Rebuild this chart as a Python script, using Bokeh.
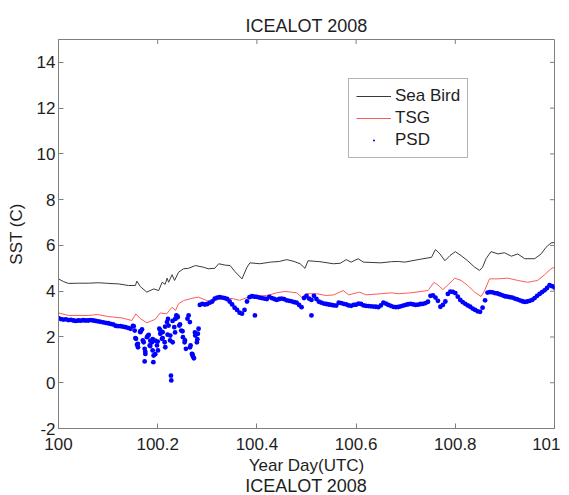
from bokeh.plotting import figure
from bokeh.models import (FixedTicker, Range1d, Div, Legend, LegendItem)
from bokeh.layouts import column
from bokeh.embed import file_html
from bokeh.resources import INLINE

title_text = "ICEALOT 2008"
x_label = "Year Day(UTC)"
y_label = "SST (C)"
x_ticks = [100, 100.2, 100.4, 100.6, 100.8, 101]
x_tick_labels = ["100", "100.2", "100.4", "100.6", "100.8", "101"]
y_ticks = [-2, 0, 2, 4, 6, 8, 10, 12, 14]
y_tick_labels = ["-2", "0", "2", "4", "6", "8", "10", "12", "14"]
x_min, x_max = 100, 101
y_min, y_max = -2, 15

seabird_x = [100.000, 100.010, 100.020, 100.040, 100.061, 100.080, 100.095, 100.110, 100.121,
             100.141, 100.155, 100.158, 100.165, 100.178, 100.192, 100.202, 100.209, 100.215,
             100.219, 100.222, 100.229, 100.234, 100.242, 100.252, 100.262, 100.276, 100.292,
             100.302, 100.315, 100.323, 100.336, 100.346, 100.356, 100.370, 100.380, 100.386,
             100.406, 100.427, 100.445, 100.460, 100.475, 100.487, 100.497, 100.503, 100.527,
             100.554, 100.568, 100.580, 100.590, 100.604, 100.615, 100.650, 100.671, 100.685,
             100.698, 100.725, 100.752, 100.760, 100.769, 100.779, 100.789, 100.800, 100.812,
             100.825, 100.839, 100.849, 100.855, 100.862, 100.872, 100.886, 100.899, 100.913,
             100.926, 100.940, 100.960, 100.973, 100.983, 100.993, 101.000]
seabird_y = [4.54, 4.42, 4.34, 4.35, 4.35, 4.37, 4.35, 4.33, 4.32,
             4.25, 4.25, 4.44, 4.20, 3.96, 4.10, 4.03, 4.39, 4.30,
             4.57, 4.39, 4.72, 4.47, 4.83, 4.98, 5.00, 5.12, 5.05,
             4.98, 5.00, 5.20, 5.14, 5.12, 4.85, 4.54, 5.05, 5.24,
             5.20, 5.27, 5.30, 5.38, 5.30, 5.20, 5.00, 5.33, 5.29,
             5.20, 5.22, 5.38, 5.27, 5.42, 5.27, 5.24, 5.29, 5.30,
             5.27, 5.38, 5.48, 5.82, 5.63, 5.33, 5.55, 5.73, 5.55,
             5.33, 5.05, 4.91, 5.05, 5.42, 5.73, 5.63, 5.68, 5.53,
             5.63, 5.42, 5.42, 5.63, 5.92, 6.11, 6.13]

tsg_x = [100.000, 100.020, 100.061, 100.078, 100.101, 100.128, 100.148, 100.156, 100.165,
         100.178, 100.195, 100.205, 100.218, 100.229, 100.236, 100.242, 100.252, 100.269,
         100.282, 100.299, 100.309, 100.322, 100.336, 100.350, 100.365, 100.380, 100.400,
         100.420, 100.440, 100.457, 100.480, 100.490, 100.500, 100.520, 100.540, 100.555,
         100.574, 100.585, 100.607, 100.620, 100.651, 100.671, 100.685, 100.711, 100.745,
         100.757, 100.765, 100.775, 100.785, 100.799, 100.812, 100.825, 100.839, 100.852,
         100.859, 100.869, 100.886, 100.906, 100.926, 100.946, 100.966, 100.980, 100.993,
         101.000]
tsg_y = [3.05, 2.94, 2.94, 2.98, 2.89, 2.83, 2.72, 3.01, 2.80,
         2.62, 2.77, 3.05, 3.01, 3.30, 3.16, 3.45, 3.59, 3.69,
         3.74, 3.59, 3.52, 3.64, 3.69, 3.68, 3.60, 3.72, 3.80,
         3.81, 3.93, 3.99, 3.93, 3.74, 3.89, 3.89, 3.81, 3.84,
         4.03, 3.84, 3.96, 3.84, 3.89, 3.93, 3.89, 3.93, 4.03,
         4.39, 4.27, 4.07, 4.27, 4.57, 4.47, 4.25, 3.96, 3.77,
         4.03, 4.54, 4.54, 4.57, 4.47, 4.39, 4.47, 4.72, 4.98,
         5.05]

# PSD samples every 0.005 day from 100.000 to 101.000
psd_t0 = 100.0
psd_dt = 0.005
psd_y = [2.82, 2.78, 2.76, 2.77, 2.74, 2.75, 2.72, 2.70, 2.72, 2.71,
         2.73, 2.72, 2.72, 2.74, 2.72, 2.70, 2.68, 2.66, 2.64, 2.62,
         2.60, 2.57, 2.55, 2.49, 2.47, 2.47, 2.45, 2.43, 2.40, 2.36,
         2.48, 1.95, 1.70, 2.25, 1.85, 1.35, 2.05, 1.60, 1.90, 1.25,
         1.80, 2.30, 1.95, 2.45, 2.10, 1.85, 2.70, 2.20, 2.90, 2.55,
         2.25, 1.85, 2.80, 1.55, 1.25, 2.20, 1.90, 3.40, 3.45, 3.42,
         3.44, 3.50, 3.55, 3.68, 3.72, 3.74, 3.72, 3.70, 3.66, 3.55,
         3.42, 3.28, 3.18, 3.06, 3.02, 3.18, 3.55, 3.74, 3.78, 3.76,
         3.75, 3.72, 3.70, 3.68, 3.66, 3.75, 3.70, 3.66, 3.62, 3.66,
         3.68, 3.65, 3.60, 3.58, 3.56, 3.52, 3.50, 3.40, 3.30, 3.70,
         3.80, 3.68, 3.62, 3.80, 3.66, 3.54, 3.50, 3.46, 3.44, 3.42,
         3.40, 3.38, 3.37, 3.50, 3.48, 3.45, 3.42, 3.38, 3.36, 3.40,
         3.41, 3.46, 3.44, 3.38, 3.36, 3.35, 3.34, 3.33, 3.32, 3.30,
         3.38, 3.50, 3.46, 3.40, 3.36, 3.32, 3.30, 3.31, 3.34, 3.37,
         3.40, 3.43, 3.45, 3.42, 3.40, 3.41, 3.44, 3.45, 3.48, 3.54,
         3.80, 3.82, 3.72, 3.58, 3.32, 3.40, 3.55, 3.88, 3.98, 3.97,
         3.92, 3.76, 3.62, 3.52, 3.45, 3.38, 3.32, 3.24, 3.18, 3.12,
         3.10, 3.28, 3.60, 3.94, 3.96, 3.95, 3.92, 3.90, 3.86, 3.82,
         3.78, 3.76, 3.74, 3.72, 3.68, 3.64, 3.60, 3.56, 3.53, 3.55,
         3.58, 3.62, 3.70, 3.80, 3.88, 3.96, 4.04, 4.14, 4.26, 4.22,
         4.16]
psd_x = [round(psd_t0 + psd_dt * i, 3) for i in range(len(psd_y))]

# extra PSD samples in the noisy section and outliers
psd_extra_x = [100.1516, 100.1536, 100.1563, 100.1583, 100.1603, 100.1650, 100.1684, 100.1717,
               100.1737, 100.1751, 100.1737, 100.1784, 100.1818, 100.1851, 100.1838, 100.1885,
               100.1898, 100.1918, 100.1912, 100.1952, 100.1985, 100.2005, 100.2032, 100.2052,
               100.2086, 100.2099, 100.2140, 100.2153, 100.2187, 100.2207, 100.2220, 100.2254,
               100.2267, 100.2274, 100.2301, 100.2334, 100.2354, 100.2375, 100.2401, 100.2435,
               100.2475, 100.2509, 100.2542, 100.2569, 100.2623, 100.2649, 100.2663, 100.2690,
               100.2710, 100.2730, 100.2757, 100.2790, 100.2810, 100.2824, 100.396, 100.510]
psd_extra_y = [2.47, 2.28, 1.92, 1.66, 1.55, 2.21, 2.33, 1.77,
               1.48, 1.26, 0.93, 1.99, 2.09, 1.84, 1.63, 1.77,
               1.41, 1.19, 0.90, 1.84, 1.63, 1.41, 2.36, 2.14,
               1.92, 2.21, 1.77, 1.55, 2.65, 2.79, 2.50, 2.06,
               0.31, 0.10, 1.77, 2.43, 2.79, 2.94, 2.86, 2.50,
               2.28, 1.99, 1.77, 1.48, 2.94, 2.65, 1.63, 1.26,
               1.16, 1.07, 2.06, 1.77, 2.14, 2.36, 2.94, 2.94]

FONT = "Liberation Sans"
AXIS_GRAY = "#7f7f7f"
TEXT = "#1e1e1e"

p = figure(width=560, height=478, output_backend="svg", toolbar_location=None,
           x_range=Range1d(x_min, x_max), y_range=Range1d(y_min, y_max),
           min_border_left=58, min_border_right=6, min_border_top=39, min_border_bottom=50)
p.title.text = title_text
p.title.align = "center"
p.title.text_font = FONT
p.title.text_font_size = "18px"
p.title.text_font_style = "normal"
p.title.text_color = TEXT
p.title.standoff = 7

p.grid.visible = False
p.outline_line_color = AXIS_GRAY
p.background_fill_color = "white"
p.border_fill_color = "white"

l1 = p.line(seabird_x, seabird_y, line_color="#3a3a3a", line_width=1)
l2 = p.line(tsg_x, tsg_y, line_color="#ff5a5a", line_width=1)
s1 = p.scatter(psd_x + psd_extra_x, psd_y + psd_extra_y, size=4.8, marker="circle",
               fill_color="#0000ff", line_color=None)
# same PSD samples drawn as tiny dots (hidden under the band); used as the legend swatch
s_leg = p.scatter(psd_x, psd_y, marker="dot", size=6,
                  line_color="#0000ff", fill_color="#0000ff", line_width=1.5)

# mirror tick marks on the top and right frame edges (inward, like the main axes)
y_tick_len = (x_max - x_min) / 496 * 4.5
x_tick_len = (y_max - y_min) / 389 * 4.5
p.segment(x0=x_ticks, y0=[y_max] * len(x_ticks), x1=x_ticks,
          y1=[y_max - x_tick_len] * len(x_ticks), line_color=AXIS_GRAY, line_width=1)
p.segment(x0=[x_max] * len(y_ticks), y0=y_ticks, x1=[x_max - y_tick_len] * len(y_ticks),
          y1=y_ticks, line_color=AXIS_GRAY, line_width=1)

def style_axis(ax, ticks, labels):
    ax.ticker = FixedTicker(ticks=ticks)
    ax.major_label_overrides = {t: l for t, l in zip(ticks, labels)}
    ax.minor_tick_line_color = None
    ax.major_tick_in = 5
    ax.major_tick_out = 0
    ax.axis_line_color = AXIS_GRAY
    ax.major_tick_line_color = AXIS_GRAY
    ax.major_label_text_font = FONT
    ax.major_label_text_font_size = "17px"
    ax.major_label_text_color = TEXT
    ax.axis_label_text_font = FONT
    ax.axis_label_text_font_size = "17px"
    ax.axis_label_text_font_style = "normal"
    ax.axis_label_text_color = TEXT

xa = p.xaxis[0]
style_axis(xa, x_ticks, x_tick_labels)
xa.axis_label = x_label
xa.major_label_standoff = 9
xa.axis_label_standoff = 3

ya = p.yaxis[0]
style_axis(ya, y_ticks, y_tick_labels)
ya.axis_label = y_label
ya.major_label_standoff = 3
ya.axis_label_standoff = 8

legend = Legend(items=[LegendItem(label="Sea Bird", renderers=[l1]),
                       LegendItem(label="TSG", renderers=[l2]),
                       LegendItem(label="PSD", renderers=[s_leg])],
                location=(290, 270))
legend.label_text_font = FONT
legend.label_text_font_size = "17px"
legend.label_text_color = TEXT
legend.glyph_width = 35
legend.glyph_height = 20
legend.label_height = 20
legend.label_standoff = 4
legend.spacing = 2
legend.padding = 7
legend.margin = 0
legend.border_line_color = "#6a6a6a"
legend.background_fill_alpha = 1.0
p.add_layout(legend, "center")

div = Div(text=title_text, width=496, height=16, margin=(0, 0, 0, 58),
          styles={"font-family": FONT, "font-size": "18px", "line-height": "16px",
                  "text-align": "center", "color": TEXT})

layout = column(p, div, spacing=0)
open("out.html", "w").write(file_html(layout, INLINE))
